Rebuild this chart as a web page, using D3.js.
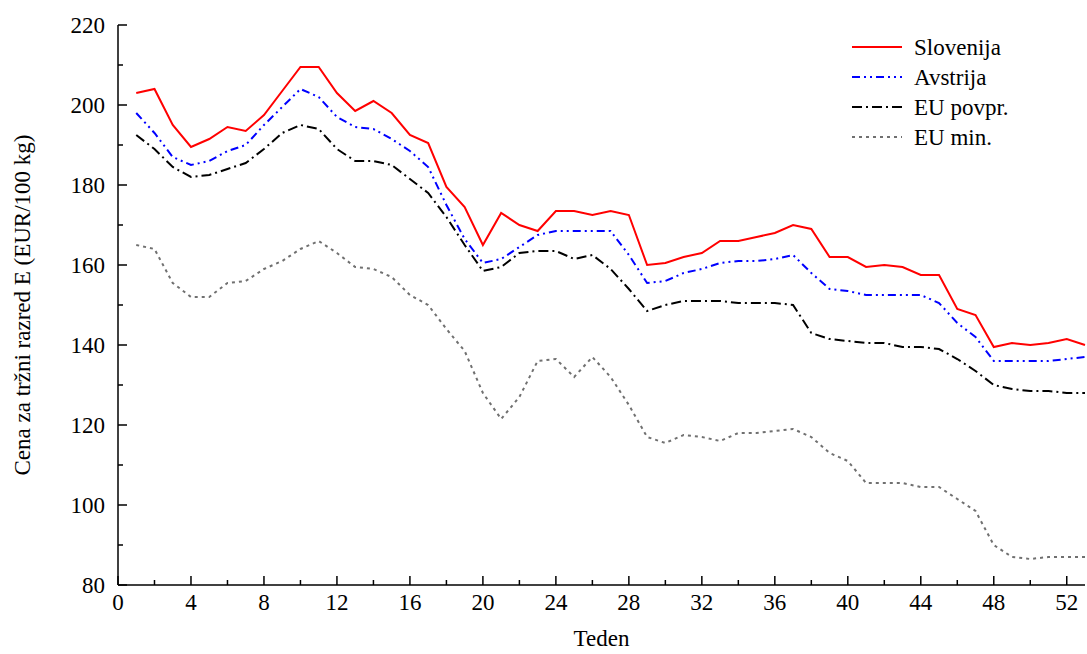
<!DOCTYPE html>
<html>
<head>
<meta charset="UTF-8">
<script src="https://d3js.org/d3.v7.min.js"></script>
<style>
  body { margin: 0; background: #fff; }
  text { font-family: "Liberation Serif", serif; }
</style>
</head>
<body>
<svg id="chart" width="1087" height="654"></svg>
<script>
const weeks = d3.range(1, 54);
const slovenija = [203,204,195,189.5,191.5,194.5,193.5,197.5,203.5,209.5,209.5,203,198.5,201,198,192.5,190.5,179.5,174.5,165,173,170,168.5,173.5,173.5,172.5,173.5,172.5,160,160.5,162,163,166,166,167,168,170,169,162,162,159.5,160,159.5,157.5,157.5,149,147.5,139.5,140.5,140,140.5,141.5,140];
const avstrija = [198,193,187,185,186,188.5,190,195,199.5,204,202,197,194.5,194,191.5,188.5,184.5,175,166.5,160.5,161.5,164.5,167.5,168.5,168.5,168.5,168.5,162.5,155.5,156,158,159,160.5,161,161,161.5,162.5,158,154,153.5,152.5,152.5,152.5,152.5,150.5,145.5,142,136,136,136,136,136.5,137];
const euPovpr = [192.5,189,184.5,182,182.5,184,185.5,189,193,195,194,189,186,186,185,181.5,178,172,165,158.5,159.5,163,163.5,163.5,161.5,162.5,159,154,148.5,150,151,151,151,150.5,150.5,150.5,150,143,141.5,141,140.5,140.5,139.5,139.5,139,136.5,133.5,130,129,128.5,128.5,128,128];
const euMin = [165,164,155.5,152,152,155.5,156,159,161,164,166,163,159.5,159,157,152.5,150,144,138.5,128,121.5,127,136,136.5,132,137,132,125,117,115.5,117.5,117,116,118,118,118.5,119,117,113,111,105.5,105.5,105.5,104.5,104.5,101.5,98.5,90,87,86.5,87,87,87];
const xTicks = d3.range(0, 53, 4);
const yTicks = d3.range(80, 221, 20);

const series = [
  {name: "Slovenija", values: slovenija, color: "#ff0000", dash: null},
  {name: "Avstrija", values: avstrija, color: "#0000ff", dash: "8,4,2,4,2,4"},
  {name: "EU povpr.", values: euPovpr, color: "#000000", dash: "10,4,2,4"},
  {name: "EU min.", values: euMin, color: "#707070", dash: "3,4"}
];

const svg = d3.select("#chart");
const L = 118, R = 1085, T = 25, B = 585;
const x = d3.scaleLinear().domain([0, 53]).range([L, R]);
const y = d3.scaleLinear().domain([80, 220]).range([B, T]);

const g = svg.append("g");
g.append("line").attr("x1", L).attr("x2", L).attr("y1", T).attr("y2", B).attr("stroke", "#000").attr("stroke-width", 1.5);
g.append("line").attr("x1", L).attr("x2", R).attr("y1", B).attr("y2", B).attr("stroke", "#000").attr("stroke-width", 1.5);

// x ticks (major every 4, minor every 2)
d3.range(0, 54, 2).forEach(v => {
  const major = v % 4 === 0;
  g.append("line").attr("x1", x(v)).attr("x2", x(v)).attr("y1", B).attr("y2", B - (major ? 9 : 5)).attr("stroke", "#000").attr("stroke-width", 1.5);
});
xTicks.forEach(v => {
  g.append("text").attr("x", x(v)).attr("y", B + 25).attr("text-anchor", "middle").attr("font-size", 23).text(v);
});
// y ticks
d3.range(80, 221, 10).forEach(v => {
  const major = v % 20 === 0;
  g.append("line").attr("x1", L).attr("x2", L + (major ? 9 : 5)).attr("y1", y(v)).attr("y2", y(v)).attr("stroke", "#000").attr("stroke-width", 1.5);
});
yTicks.forEach(v => {
  g.append("text").attr("x", L - 13).attr("y", y(v) + 8).attr("text-anchor", "end").attr("font-size", 23).text(v);
});

svg.append("text").attr("x", x(26.5)).attr("y", 646).attr("text-anchor", "middle").attr("font-size", 23).text("Teden");
svg.append("text").attr("transform", `translate(30,${(T + B) / 2}) rotate(-90)`).attr("text-anchor", "middle").attr("font-size", 23).text("Cena za tržni razred E (EUR/100 kg)");

const line = d3.line().x((d, i) => x(weeks[i])).y(d => y(d));
series.slice().reverse().forEach(s => {
  svg.append("path").datum(s.values).attr("d", line).attr("fill", "none")
    .attr("stroke", s.color).attr("stroke-width", 2).attr("stroke-dasharray", s.dash);
});

// legend
series.forEach((s, i) => {
  const ly = 47 + i * 30;
  svg.append("line").attr("x1", 852).attr("x2", 902).attr("y1", ly).attr("y2", ly)
    .attr("stroke", s.color).attr("stroke-width", 2).attr("stroke-dasharray", s.dash);
  svg.append("text").attr("x", 914).attr("y", ly + 8).attr("font-size", 23).text(s.name);
});
</script>
</body>
</html>
